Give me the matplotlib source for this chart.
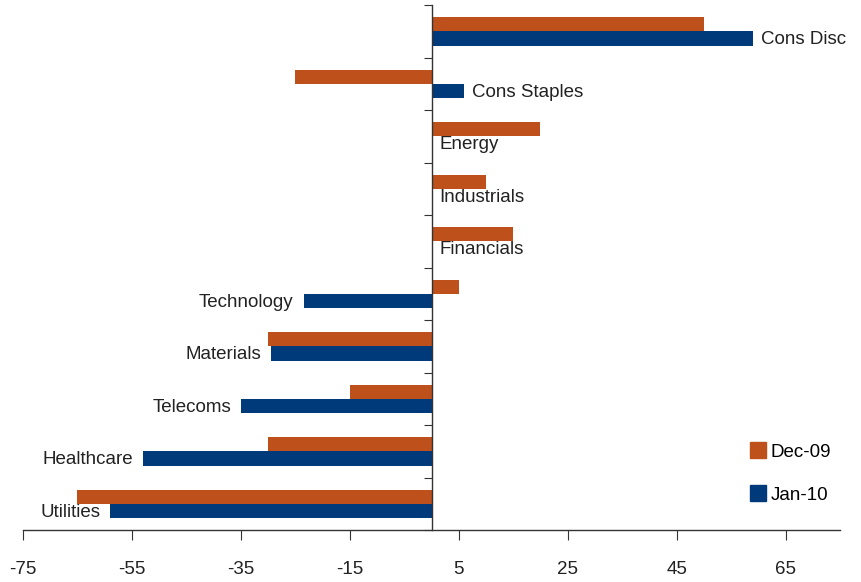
import numpy as np
import matplotlib
matplotlib.use('Agg')
import matplotlib.pyplot as plt
from matplotlib.lines import Line2D

plt.rcParams['font.family'] = ['Liberation Sans', 'DejaVu Sans']
plt.rcParams['axes.unicode_minus'] = False

sectors = ['Cons Disc', 'Cons Staples', 'Energy', 'Industrials', 'Financials',
           'Technology', 'Materials', 'Telecoms', 'Healthcare', 'Utilities']
dec09 = [50, -25, 20, 10, 15, 5, -30, -15, -30, -65]
jan10 = [59, 6, 0, 0, 0, -23.5, -29.5, -35, -53, -59]
xticks = [-75, -55, -35, -15, 5, 25, 45, 65]

orange = '#BE501B'
blue = '#013A7A'

fig = plt.figure(figsize=(8.62, 5.82), dpi=100)
ax = fig.add_axes([0.0267, 0.089, 0.9478, 0.902])

y = np.arange(len(sectors))
h = 0.275
ax.barh(y - h / 2, dec09, height=h, color=orange, label='Dec-09')
ax.barh(y + h / 2, jan10, height=h, color=blue, label='Jan-10')

# sector names sit at the end of the Jan-10 bar
for yi, name, v in zip(y, sectors, jan10):
    if v >= 0:
        ax.text(v + 1.5, yi + h / 2 + 0.02, name, ha='left', va='center', fontsize=13.5, color='#222222')
    else:
        ax.text(v - 1.8, yi + h / 2 + 0.02, name, ha='right', va='center', fontsize=13.5, color='#222222')

ax.set_xlim(-75, 75)
ax.set_ylim(len(sectors) - 0.5, -0.5)
ax.set_xticks(xticks)
ax.set_yticks(np.arange(-0.5, len(sectors), 1.0))
ax.set_yticklabels([])

ax.spines['left'].set_position(('data', 0))
ax.spines['top'].set_visible(False)
ax.spines['right'].set_visible(False)
for s in ['left', 'bottom']:
    ax.spines[s].set_color('#333333')
    ax.spines[s].set_linewidth(1.0)
ax.tick_params(axis='y', direction='out', length=6, color='#333333')
ax.tick_params(axis='x', direction='out', length=7, pad=15, labelsize=13.5, color='#333333', labelcolor='#222222')

handles = [Line2D([], [], marker='s', linestyle='none', markersize=11, color=orange),
           Line2D([], [], marker='s', linestyle='none', markersize=11, color=blue)]
ax.legend(handles, ['Dec-09', 'Jan-10'], loc='lower right', bbox_to_anchor=(1.01, 0.018),
          frameon=False, fontsize=13.5, labelspacing=1.4, handletextpad=0.1, handlelength=1.2)

fig.savefig('out.png', dpi=100)
